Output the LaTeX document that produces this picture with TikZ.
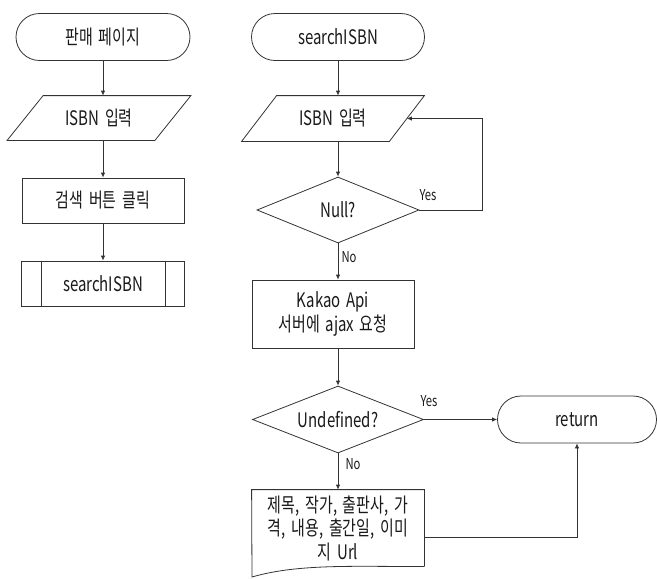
\documentclass[tikz,border=0pt]{standalone}
\usepackage{fontspec}
\setmainfont{Noto Sans CJK KR}[FakeStretch=0.75,WordSpace=1.7]
\usetikzlibrary{arrows.meta,shapes.geometric}

\begin{document}
\begin{tikzpicture}[x=1pt,y=-1pt,
  line width=0.8pt,
  every node/.style={font=\fontsize{20}{23.5}\selectfont, text=black!90},
  outline/.style={draw=black!80},
  term/.style={outline, rectangle, rounded corners=23.5pt, minimum height=47, inner sep=0},
  iobox/.style={rectangle, minimum height=44, inner sep=0},
  proc/.style={outline, rectangle, inner sep=0, align=center},
  decision/.style={outline, diamond, aspect=2.45, inner sep=0},
  docbox/.style={rectangle, inner sep=0, align=center},
  lbl/.style={font=\fontsize{15}{17}\selectfont},
  arr/.style={draw=black!80, -{Latex[length=5pt,width=4.5pt]}}
]
\useasboundingbox (0,0) rectangle (657,579);

% ---- sales page flow ----
\node[term, minimum width=174] (t1) at (103,37) {판매 페이지};
\node[iobox, minimum width=183] (p1) at (99,118) {ISBN 입력};
\draw[outline] ([xshift=36pt]p1.north west) -- (p1.north east)
  -- ([xshift=-36pt]p1.south east) -- (p1.south west) -- cycle;
\node[proc, minimum width=162, minimum height=45] (r1) at (103,200.5) {검색 버튼 클릭};
\node[proc, minimum width=163, minimum height=45] (s1) at (103,283.5) {searchISBN};
\draw[outline] ([xshift=20pt]s1.north west) -- ([xshift=20pt]s1.south west);
\draw[outline] ([xshift=-20pt]s1.north east) -- ([xshift=-20pt]s1.south east);

\draw[arr] (t1.south) -- (t1.south |- p1.north);
\draw[arr] (r1 |- p1.south) -- (r1.north);
\draw[arr] (r1.south) -- (s1.north);

% ---- searchISBN flow ----
\node[term, minimum width=173] (t2) at (338,37) {searchISBN};
\node[iobox, minimum width=182, minimum height=45] (p2) at (333,118.5) {ISBN 입력};
\draw[outline] ([xshift=35pt]p2.north west) -- (p2.north east)
  -- ([xshift=-35pt]p2.south east) -- (p2.south west) -- cycle;
\node[decision, minimum width=162, minimum height=66] (d1) at (338,210) {Null?};
\node[proc, minimum width=162, minimum height=68] (r2) at (333,314) {Kakao Api\\서버에 ajax 요청};
\node[decision, minimum width=171, minimum height=67] (d2) at (338,419.5) {Undefined?};
\node[term, minimum width=159] (ret) at (577,419.5) {return};
\node[docbox, minimum width=172, minimum height=76] (doc) at (338,528)
  {제목, 작가, 출판사, 가\\격, 내용, 출간일, 이미\\지 Url};
\draw[outline] (doc.south east) -- (doc.north east) -- (doc.north west)
  -- (252,577) .. controls (300,563) and (360,567) .. (doc.south east);

\coordinate (loop) at (482,118.5);

\draw[arr] (t2.south) -- (t2.south |- p2.north);
\draw[arr] (p2.south -| d1) -- (d1.north);
\draw[arr] (d1.south) -- (d1.south |- r2.north);
\draw[arr] (r2.south -| d2) -- (d2.north);
\draw[arr] (d2.south) -- (doc.north);
\draw[arr] (d1.east) -| (loop) -- ([xshift=-17.5pt]p2.east);
\draw[arr] (d2.east) -- (ret.west);
\draw[arr] ([yshift=-9pt]doc.east) -| (ret.south);

\node[lbl] (y1) at (428,195) {Yes};
\node[lbl] (n1) at (349,257) {No};
\node[lbl] (y2) at (429,401) {Yes};
\node[lbl] (n2) at (353,464) {No};
\end{tikzpicture}
\end{document}
